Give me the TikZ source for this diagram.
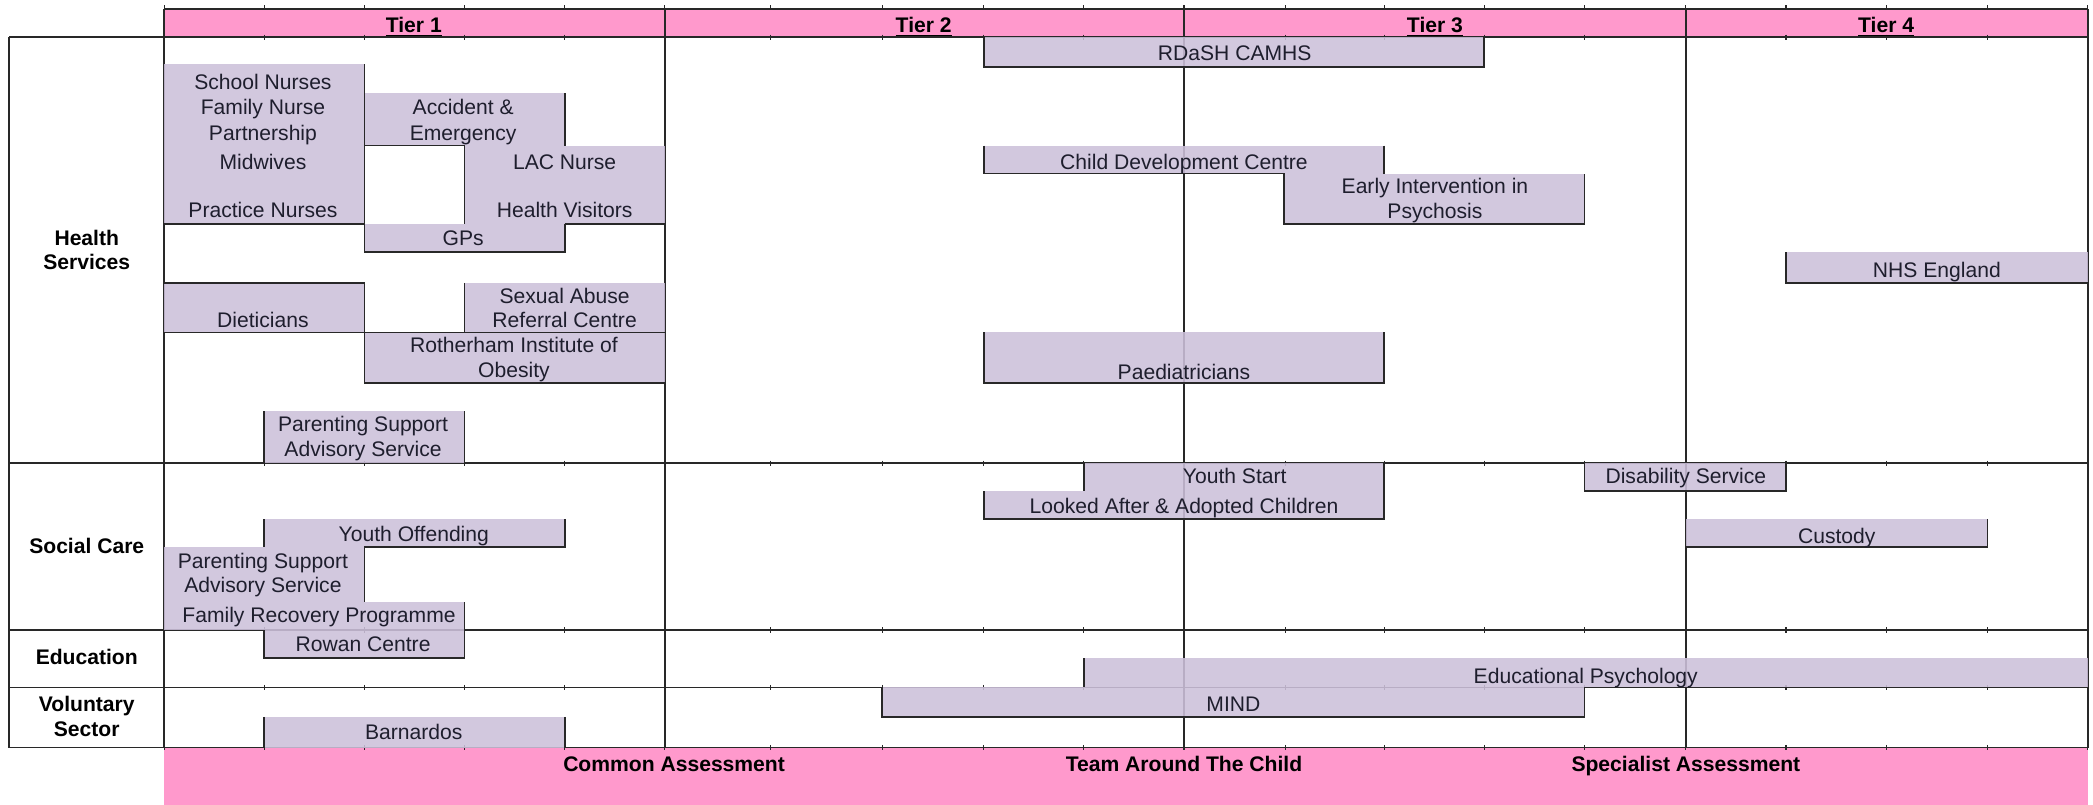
\documentclass[tikz,border=0pt]{standalone}
\usepackage{fontspec}
\setmainfont{Liberation Sans}
\definecolor{pinkband}{RGB}{255,153,204}
\definecolor{lav}{RGB}{204,192,218}
\definecolor{txtc}{RGB}{30,30,45}
\definecolor{linec}{RGB}{40,40,40}
\begin{document}
\begin{tikzpicture}[x=0.02cm,y=-0.02cm,
  ln/.style={draw=linec,line width=0.75pt},
  tl/.style={draw=linec,line width=0.8pt},
  cell/.style={fill=lav,fill opacity=0.88},
  txt/.style={anchor=base,inner sep=0pt,font=\fontsize{9}{10.8}\selectfont,text=txtc},
  btxt/.style={anchor=base,inner sep=0pt,font=\fontsize{9}{10.8}\selectfont\bfseries,text=black}]
\useasboundingbox (0,0) rectangle (1568,603);

% bands
\fill[pinkband] (123,7) rectangle (1564,28);
\fill[pinkband] (123,560) rectangle (1564,603);

% table grid
\draw[tl] (123,7) -- (1564,7);
\draw[tl] (7,28) -- (1564,28);
\foreach \yy in {347,472,515,560} \draw[tl] (7,\yy) -- (1564,\yy);
\draw[tl] (7,28) -- (7,560);
\draw[tl] (123,7) -- (123,560);
\draw[tl] (1564,7) -- (1564,560);
\foreach \xx in {498,887,1263} \draw[tl] (\xx,7) -- (\xx,560);

% ticks at cell boundaries
\foreach \xx in {123,198,273,348,423,498,577,661,737,812,887,963,1037,1112,1187,1263,1338,1413,1489,1564}{
  \draw[linec,line width=0.5pt] (\xx,4) -- (\xx,7);
  \foreach \yy in {28,347,472,515,560} \draw[linec,line width=0.5pt] (\xx,\yy-2) -- (\xx,\yy+2);
}

% cells (fills)
\fill[cell] (123,48) rectangle (273,168);
\fill[cell] (273,70) rectangle (423,109);
\fill[cell] (348,109) rectangle (498,168);
\fill[cell] (273,168) rectangle (423,189);
\fill[cell] (123,212) rectangle (273,249);
\fill[cell] (348,212) rectangle (498,249);
\fill[cell] (273,249) rectangle (498,287);
\fill[cell] (198,308) rectangle (348,347);
\fill[cell] (737,28) rectangle (1112,50);
\fill[cell] (737,109) rectangle (1037,130);
\fill[cell] (962,130) rectangle (1187,168);
\fill[cell] (1338,189) rectangle (1564,212);
\fill[cell] (737,249) rectangle (1037,287);
\fill[cell] (812,347) rectangle (1037,368);
\fill[cell] (737,368) rectangle (1037,389);
\fill[cell] (1187,347) rectangle (1338,368);
\fill[cell] (1263,389) rectangle (1489,410);
\fill[cell] (198,389) rectangle (423,410);
\fill[cell] (123,410) rectangle (273,451);
\fill[cell] (123,451) rectangle (348,472);
\fill[cell] (198,472) rectangle (348,493);
\fill[cell] (812,493) rectangle (1564,515);
\fill[cell] (661,515) rectangle (1187,537);
\fill[cell] (198,537) rectangle (423,560);

% cell borders
\draw[ln] (273,48) -- (273,189);
\draw[ln] (123,168) -- (273,168);
\draw[ln] (273,109) -- (348,109);
\draw[ln] (423,70) -- (423,109);
\draw[ln] (348,109) -- (348,168);
\draw[ln] (423,168) -- (498,168);
\draw[ln] (423,168) -- (423,189) -- (273,189);
\draw[ln] (123,212) -- (273,212) -- (273,249);
\draw[ln] (348,212) -- (348,249);
\draw[ln] (123,249) -- (498,249);
\draw[ln] (273,249) -- (273,287) -- (498,287);
\draw[ln] (198,308) -- (198,347);
\draw[ln] (348,308) -- (348,347);
\draw[ln] (737,28) -- (737,50) -- (1112,50) -- (1112,28);
\draw[ln] (737,109) -- (737,130) -- (962,130) -- (962,168) -- (1187,168) -- (1187,130);
\draw[ln] (1037,109) -- (1037,130);
\draw[ln] (1338,189) -- (1338,212) -- (1564,212);
\draw[ln] (737,249) -- (737,287) -- (1037,287) -- (1037,249);
\draw[ln] (812,347) -- (812,368);
\draw[ln] (737,368) -- (737,389) -- (1037,389) -- (1037,347);
\draw[ln] (1187,347) -- (1187,368) -- (1338,368) -- (1338,347);
\draw[ln] (1263,410) -- (1489,410) -- (1489,389);
\draw[ln] (198,389) -- (198,410);
\draw[ln] (273,410) -- (423,410) -- (423,389);
\draw[ln] (273,410) -- (273,451);
\draw[ln] (348,451) -- (348,472);
\draw[ln] (198,472) -- (198,493) -- (348,493) -- (348,472);
\draw[ln] (812,493) -- (812,515);
\draw[ln] (661,515) -- (661,537) -- (1187,537) -- (1187,515);
\draw[ln] (198,537) -- (198,560);
\draw[ln] (423,537) -- (423,560);

% header labels
\node[btxt] (tier1) at (310,24) {\underline{Tier 1}};
\node[btxt] (tier2) at (692,24) {\underline{Tier 2}};
\node[btxt] (tier3) at (1075,24) {\underline{Tier 3}};
\node[btxt] (tier4) at (1413,24) {\underline{Tier 4}};

% row labels
\node[btxt] (rh1) at (65,184) {Health};
\node[btxt] (rh2) at (65,202) {Services};
\node[btxt] (rsc) at (65,415) {Social Care};
\node[btxt] (red) at (65,498) {Education};
\node[btxt] (rv1) at (65,533) {Voluntary};
\node[btxt] (rv2) at (65,552) {Sector};

% bottom labels
\node[btxt] (ca) at (505,578) {Common Assessment};
\node[btxt] (tac) at (887,578) {Team Around The Child};
\node[btxt] (sa) at (1263,578) {Specialist Assessment};

% cell texts
\node[txt] (sn) at (197,67) {School Nurses};
\node[txt] (fn) at (197,86) {Family Nurse};
\node[txt] (pa) at (197,105) {Partnership};
\node[txt] (mw) at (197,127) {Midwives};
\node[txt] (pn) at (197,163) {Practice Nurses};
\node[txt] (ae1) at (347,86) {Accident \&};
\node[txt] (ae2) at (347,105) {Emergency};
\node[txt] (lac) at (423,127) {LAC Nurse};
\node[txt] (hv) at (423,163) {Health Visitors};
\node[txt] (gp) at (347,184) {GPs};
\node[txt] (di) at (197,245) {Dieticians};
\node[txt] (sa1) at (423,227) {Sexual Abuse};
\node[txt] (sa2) at (423,245) {Referral Centre};
\node[txt] (ro1) at (385,264) {Rotherham Institute of};
\node[txt] (ro2) at (385,283) {Obesity};
\node[txt] (ps1) at (272,323) {Parenting Support};
\node[txt] (ps2) at (272,342) {Advisory Service};
\node[txt] (rd) at (925,45) {RDaSH CAMHS};
\node[txt] (cdc) at (887,127) {Child Development Centre};
\node[txt] (ei1) at (1075,145) {Early Intervention in};
\node[txt] (ei2) at (1075,164) {Psychosis};
\node[txt] (nhs) at (1451,208) {NHS England};
\node[txt] (pae) at (887,284) {Paediatricians};
\node[txt] (ys) at (925,362) {Youth Start};
\node[txt] (la) at (887,385) {Looked After \& Adopted Children};
\node[txt] (ds) at (1263,362) {Disability Service};
\node[txt] (cu) at (1376,407) {Custody};
\node[txt] (yo) at (310,406) {Youth Offending};
\node[txt] (pss1) at (197,426) {Parenting Support};
\node[txt] (pss2) at (197,444) {Advisory Service};
\node[txt] (frp) at (239,466) {Family Recovery Programme};
\node[txt] (rc) at (272,488) {Rowan Centre};
\node[txt] (ep) at (1188,512) {Educational Psychology};
\node[txt] (mind) at (924,533) {MIND};
\node[txt] (ba) at (310,554) {Barnardos};
\end{tikzpicture}
\end{document}
